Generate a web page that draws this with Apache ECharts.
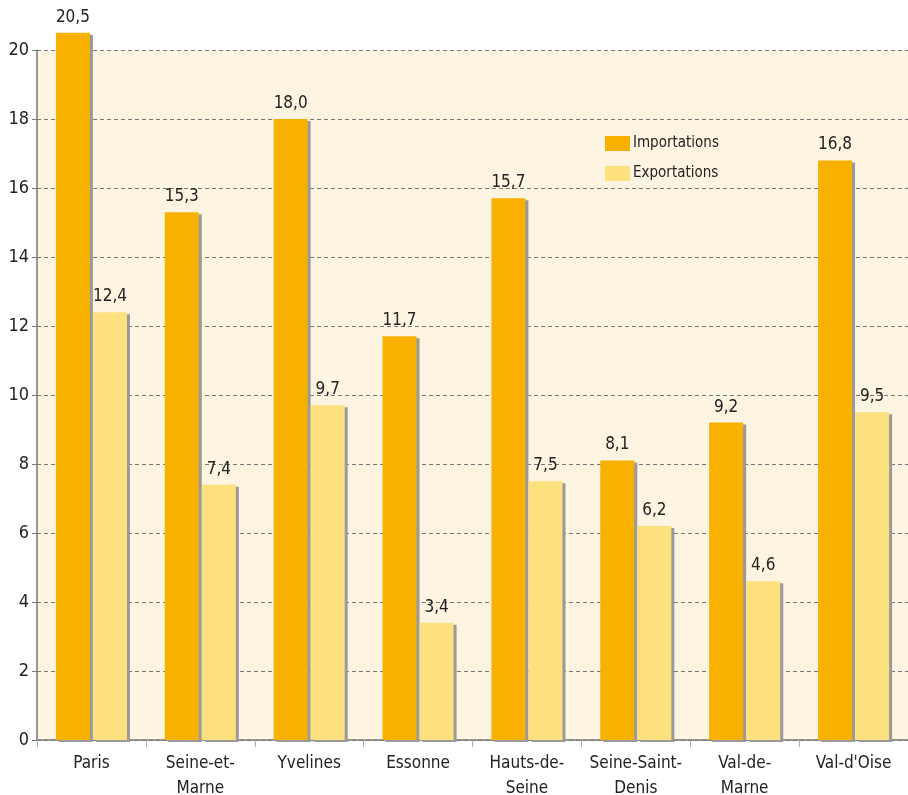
<!DOCTYPE html>
<html><head><meta charset="utf-8">
<script src="https://cdn.jsdelivr.net/npm/echarts@6/dist/echarts.min.js"></script>
<style>html,body{margin:0;padding:0;background:#fff}#c{width:908px;height:795px}</style>
</head><body><div id="c"></div>
<script>
const categories = ['Paris', 'Seine-et-\nMarne', 'Yvelines', 'Essonne', 'Hauts-de-\nSeine', 'Seine-Saint-\nDenis', 'Val-de-\nMarne', "Val-d'Oise"];
const importations = [20.5, 15.3, 18.0, 11.7, 15.7, 8.1, 9.2, 16.8];
const exportations = [12.4, 7.4, 9.7, 3.4, 7.5, 6.2, 4.6, 9.5];
const seriesNames = ['Importations', 'Exportations'];

const FONT = '"DejaVu Sans Condensed", "Liberation Sans Narrow", sans-serif';
const chart = echarts.init(document.getElementById('c'));
const fmt = p => p.value.toFixed(1).replace('.', ',');
function bar(name, data, color) {
  return {
    name, type: 'bar', data, clip: false,
    barWidth: 34, barGap: '9%', barCategoryGap: '36%',
    itemStyle: { color, shadowColor: '#9a9a9a', shadowOffsetX: 3, shadowOffsetY: 2, shadowBlur: 0 },
    label: { show: true, position: 'top', distance: 7, formatter: fmt, color: '#222', fontFamily: FONT, fontSize: 17 }
  };
}
chart.setOption({
  animation: false,
  grid: { left: 37, right: 0, top: 50, bottom: 55, containLabel: false, outerBoundsMode: 'none',
          show: true, backgroundColor: '#fdf4e1', borderWidth: 0 },
  legend: {
    orient: 'vertical', left: 600, top: 131, itemWidth: 25, itemHeight: 15, itemGap: 15,
    icon: 'rect', data: seriesNames,
    textStyle: { fontFamily: FONT, fontSize: 15, color: '#222', padding: [0, 0, 0, -2] }
  },
  xAxis: {
    type: 'category', data: categories,
    axisLine: { lineStyle: { color: '#777', width: 1.5 } },
    axisTick: { show: true, interval: 0, length: 7, lineStyle: { color: '#aaa' } },
    axisLabel: { interval: 0, fontFamily: FONT, fontSize: 17, color: '#222', margin: 11, lineHeight: 25 }
  },
  yAxis: {
    type: 'value', min: 0, max: 20, interval: 2,
    axisLine: { show: true, lineStyle: { color: '#777', width: 1.5 } },
    axisTick: { show: true, length: 5, lineStyle: { color: '#777' } },
    axisLabel: { fontFamily: FONT, fontSize: 18, color: '#222', margin: 8 },
    splitLine: { lineStyle: { color: '#777', type: [4, 3], width: 1 } }
  },
  series: [bar(seriesNames[0], importations, '#f8b100'), bar(seriesNames[1], exportations, '#fee17f')]
});
</script></body></html>
